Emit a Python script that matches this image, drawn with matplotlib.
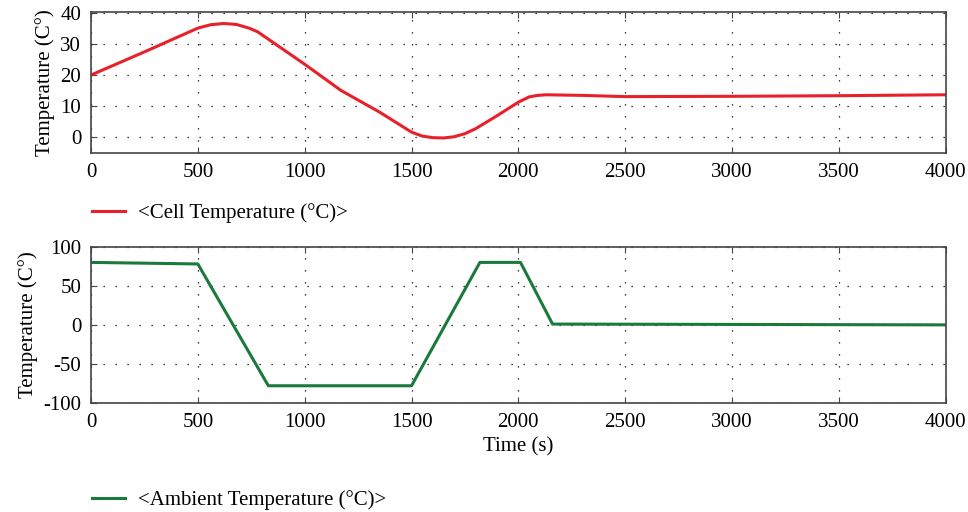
import matplotlib
matplotlib.use("Agg")
import matplotlib.pyplot as plt
from matplotlib.lines import Line2D

plt.rcParams['font.family'] = ['Liberation Serif', 'DejaVu Serif']
plt.rcParams['font.size'] = 15
plt.rcParams['axes.unicode_minus'] = False

# cell temperature (top)
cell_t = [0, 250, 500, 560, 620, 680, 740, 780, 1000, 1170, 1350, 1500, 1550, 1600, 1650, 1700, 1750, 1800, 1900, 2000, 2050, 2090, 2130, 2300, 2500, 3000, 3500, 4000]
cell_v = [20, 27.5, 35.2, 36.3, 36.7, 36.4, 35.2, 34, 23.5, 15, 8, 1.5, 0.2, -0.3, -0.4, 0, 1, 2.6, 6.8, 11.2, 12.9, 13.4, 13.6, 13.4, 13.0, 13.1, 13.3, 13.6]

# ambient temperature (bottom)
amb_t = [0, 500, 830, 1500, 1820, 2010, 2160, 4000]
amb_v = [80, 78, -78, -78, 80, 80, 1, 0]

xticks = [0, 500, 1000, 1500, 2000, 2500, 3000, 3500, 4000]

fig = plt.figure(figsize=(9.68, 5.12), dpi=100)
ax1 = fig.add_axes([0.094, 0.701, 0.883, 0.276])
ax2 = fig.add_axes([0.094, 0.213, 0.883, 0.305])

red = '#e8202a'
green = '#1a7a3c'

ax1.plot(cell_t, cell_v, color=red, lw=2.2)
ax1.set_ylim(-5.3, 40.5)
ax1.set_yticks([0, 10, 20, 30, 40])
ax1.set_ylabel('Temperature (C°)', labelpad=4)

ax2.plot(amb_t, amb_v, color=green, lw=2.2)
ax2.set_ylim(-100, 100)
ax2.set_yticks([-100, -50, 0, 50, 100])
ax2.set_ylabel('Temperature (C°)', labelpad=4)
ax2.set_xlabel('Time (s)', labelpad=4)

for ax in (ax1, ax2):
    ax.set_xlim(0, 4000)
    ax.set_xticks(xticks)
    ax.grid(True, linestyle=(0, (1, 8.6)), color='black', lw=0.9)
    ax.tick_params(direction='in', top=True, right=False, length=4, color='#444444', pad=7)
    for s in ax.spines.values():
        s.set_color('#444444')
        s.set_linewidth(1.2)

fig.legend([Line2D([], [], color=red, lw=2.2)], ['<Cell Temperature (°C)>'],
           loc='center left', bbox_to_anchor=(0.0755, 0.583), frameon=False,
           handlelength=1.6, handletextpad=0.6, fontsize=15)
fig.legend([Line2D([], [], color=green, lw=2.2)], ['<Ambient Temperature (°C)>'],
           loc='center left', bbox_to_anchor=(0.0755, 0.023), frameon=False,
           handlelength=1.6, handletextpad=0.6, fontsize=15)

fig.savefig('out.png', dpi=100)
